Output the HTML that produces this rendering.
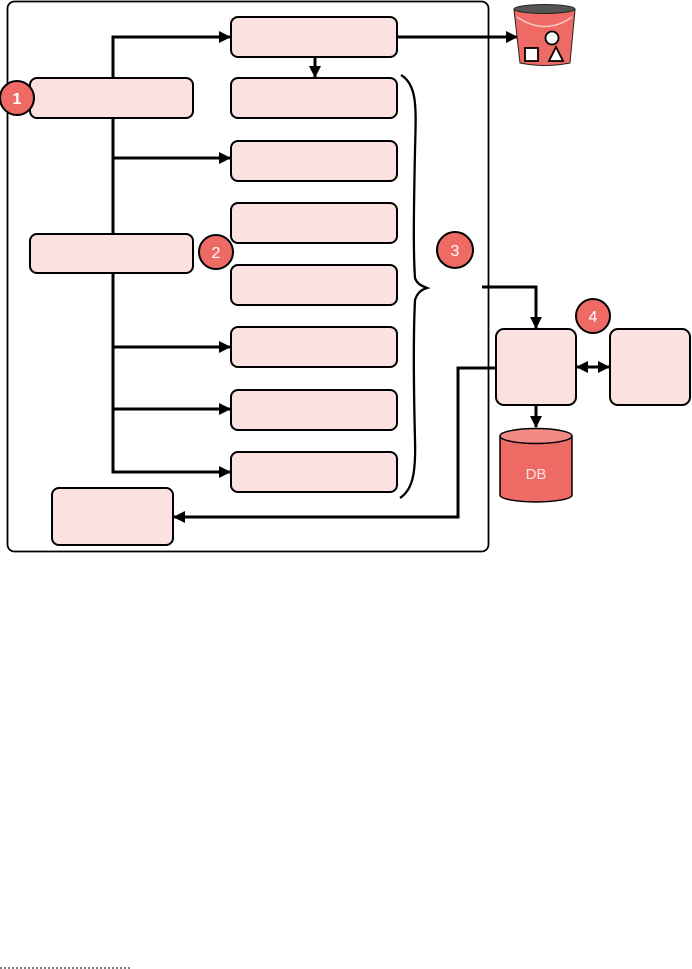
<!DOCTYPE html>
<html><head><meta charset="utf-8"><style>
html,body{margin:0;padding:0;background:#fff;width:692px;height:969px;overflow:hidden}
svg{display:block}
</style></head><body>
<svg width="692" height="969" viewBox="0 0 692 969" xmlns="http://www.w3.org/2000/svg" font-family="Liberation Sans, sans-serif">
<defs>
<marker id="a" markerWidth="12" markerHeight="12" refX="11" refY="6" orient="auto" markerUnits="userSpaceOnUse"><path d="M0,0 L12,6 L0,12 z" fill="#000"/></marker>
<marker id="b" markerWidth="12" markerHeight="12" refX="1" refY="6" orient="auto" markerUnits="userSpaceOnUse"><path d="M12,0 L0,6 L12,12 z" fill="#000"/></marker>
</defs>
<rect x="7.5" y="1.5" width="481" height="550" rx="7" fill="#fff" stroke="#000" stroke-width="1.8"/>
<g stroke="#000" stroke-width="3" fill="none">
<path d="M113,78 V37 H230" marker-end="url(#a)"/>
<path d="M113,118 V234"/>
<path d="M113,273 V472 H230" marker-end="url(#a)"/>
<path d="M113,158 H230" marker-end="url(#a)"/>
<path d="M113,347 H230" marker-end="url(#a)"/>
<path d="M113,409 H230" marker-end="url(#a)"/>
<path d="M315,57 V77" marker-end="url(#a)"/>
<path d="M397,37 H517" marker-end="url(#a)"/>
<path d="M482,287 H536 V328" marker-end="url(#a)"/>
<path d="M536,405 V427" marker-end="url(#a)"/>
<path d="M577,367 H609" marker-start="url(#b)" marker-end="url(#a)"/>
<path d="M495,368 H458 V517 H174" marker-end="url(#a)"/>
<path d="M401,75 C418,85 416,110 415,150 C414,200 413,250 415,278 C417,284 422,286 427,288 C420,290 417,294 415,300 C413,340 414,400 415,440 C416,475 412,490 400,498" stroke-width="2.3"/>
</g>
<g fill="#fce1e1" stroke="#000" stroke-width="2">
<rect x="30" y="78" width="163" height="40" rx="7"/>
<rect x="30" y="234" width="163" height="39" rx="7"/>
<rect x="52" y="488" width="121" height="57" rx="7"/>
<rect x="231" y="17" width="166" height="40" rx="7"/>
<rect x="231" y="78" width="166" height="40" rx="7"/>
<rect x="231" y="141" width="166" height="40" rx="7"/>
<rect x="231" y="203" width="166" height="40" rx="7"/>
<rect x="231" y="265" width="166" height="40" rx="7"/>
<rect x="231" y="327" width="166" height="40" rx="7"/>
<rect x="231" y="390" width="166" height="40" rx="7"/>
<rect x="231" y="452" width="166" height="40" rx="7"/>
<rect x="496" y="329" width="80" height="76" rx="8"/>
<rect x="610" y="329" width="80" height="76" rx="8"/>
</g>
<path d="M514,10 L520,63 Q545,68 570,63 L575,10 z" fill="#ee6a64" stroke="#222" stroke-width="1"/>
<ellipse cx="544.5" cy="9" rx="30.5" ry="4.5" fill="#555" stroke="#222" stroke-width="1"/>
<path d="M517,17 Q545,36 572,17" stroke="#f7c9c6" stroke-width="1.5" fill="none"/>
<circle cx="552" cy="38" r="6.5" fill="#fff" stroke="#000" stroke-width="1.8"/>
<rect x="525" y="48" width="13" height="13" fill="#fff" stroke="#000" stroke-width="1.8"/>
<path d="M556,47 L563,61 L549,61 z" fill="#fff" stroke="#000" stroke-width="1.8"/>
<path d="M500,436 V495 A36,7 0 0 0 572,495 V436" fill="#ee6a64" stroke="#000" stroke-width="1.5"/>
<ellipse cx="536" cy="436" rx="36" ry="7.5" fill="#f28a85" stroke="#000" stroke-width="1.5"/>
<text x="536" y="479" font-size="15" fill="#fce1e1" text-anchor="middle">DB</text>
<g stroke="#000" stroke-width="2" fill="#ee6a64">
<circle cx="17" cy="98" r="17"/>
<circle cx="216" cy="252" r="17"/>
<circle cx="455" cy="250" r="18"/>
<circle cx="593" cy="316" r="17"/>
</g>
<g fill="#fff" font-size="16" text-anchor="middle">
<text x="17" y="104" font-weight="bold">1</text>
<text x="216" y="258">2</text>
<text x="455" y="256">3</text>
<text x="593" y="322">4</text>
</g>
<line x1="0" y1="968" x2="132" y2="968" stroke="#000" stroke-width="1" stroke-dasharray="2,2"/>
</svg>
</body></html>
